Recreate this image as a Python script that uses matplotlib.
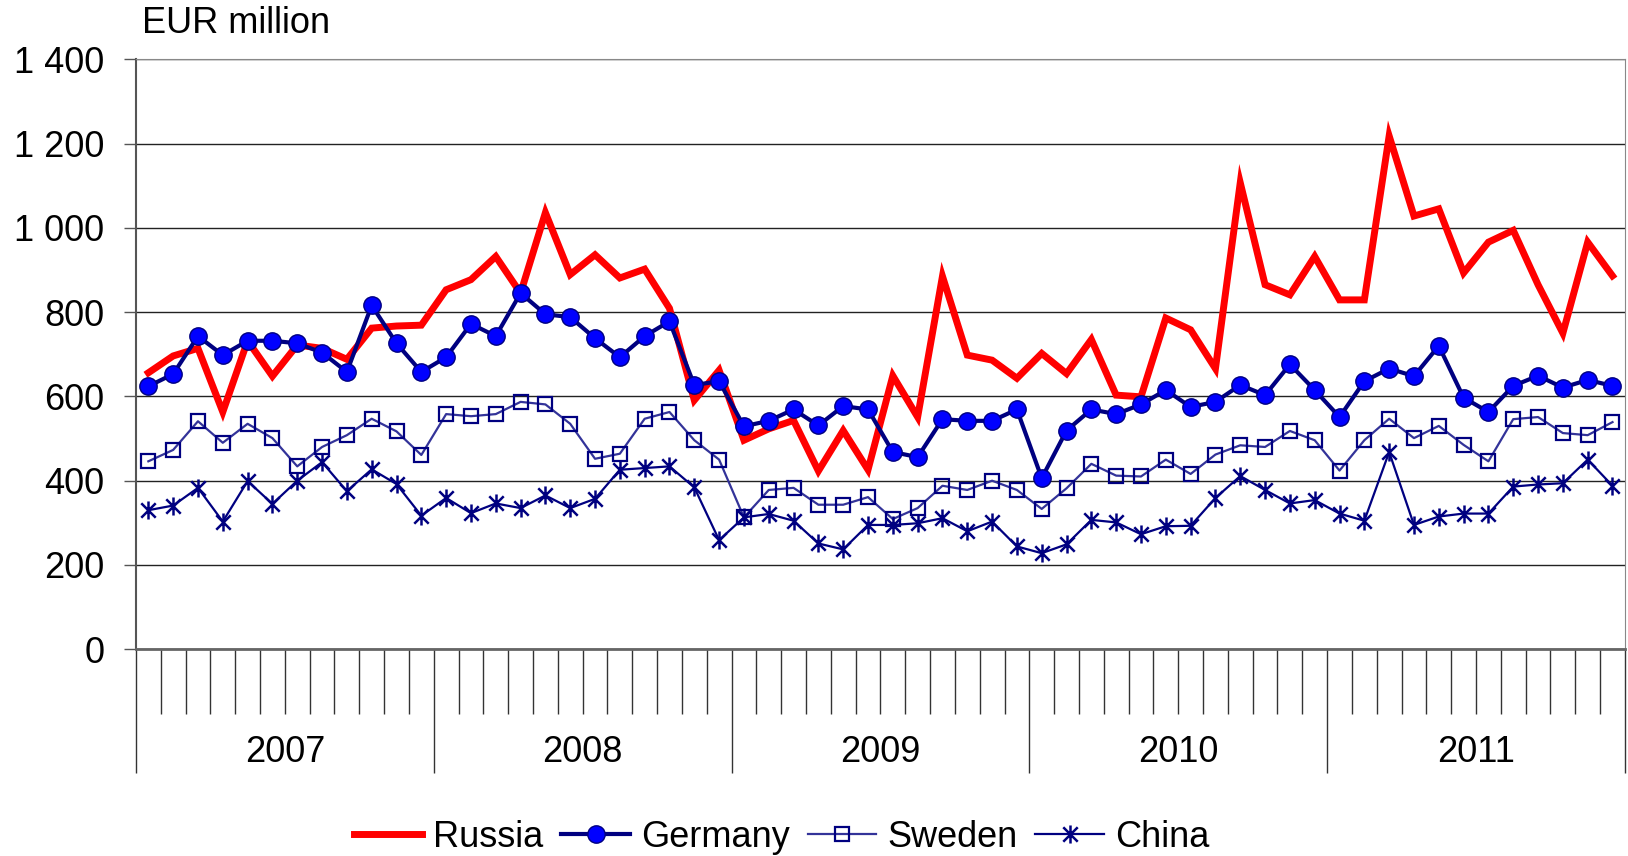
import numpy as np
import matplotlib
matplotlib.use('Agg')
from matplotlib import pyplot as plt
from matplotlib.path import Path

years = ['2007', '2008', '2009', '2010', '2011']

russia = [656, 696, 714, 563, 732, 648, 722, 714, 688, 762, 767, 769,
          853, 877, 932, 845, 1036, 889, 936, 881, 902, 809, 591, 662,
          496, 523, 543, 423, 519, 426, 649, 551, 885, 698, 686, 643,
          702, 654, 735, 603, 599, 786, 758, 666, 1107, 865, 841, 932,
          829, 829, 1218, 1028, 1045, 893, 966, 994, 865, 750, 966, 886]

germany = [624, 653, 743, 698, 732, 732, 726, 704, 658, 816, 726, 658,
           693, 772, 743, 845, 795, 788, 738, 693, 743, 778, 627, 636,
           529, 542, 569, 531, 577, 569, 468, 456, 546, 542, 542, 569,
           406, 519, 569, 558, 581, 615, 575, 587, 627, 603, 676, 615,
           551, 636, 666, 648, 720, 597, 563, 625, 649, 621, 639, 625]

sweden = [446, 473, 541, 490, 535, 501, 434, 480, 508, 547, 517, 461,
          558, 553, 558, 587, 581, 535, 452, 464, 547, 563, 496, 450,
          313, 378, 383, 343, 343, 361, 309, 335, 388, 378, 400, 378,
          333, 382, 440, 412, 410, 450, 416, 462, 484, 480, 518, 496,
          424, 496, 547, 501, 530, 485, 446, 546, 551, 513, 508, 539]

china = [330, 341, 383, 303, 399, 345, 400, 444, 375, 427, 392, 317,
         359, 323, 346, 335, 365, 335, 357, 426, 430, 434, 384, 259,
         313, 321, 305, 251, 237, 295, 295, 299, 311, 280, 303, 244,
         228, 249, 307, 301, 273, 292, 293, 359, 411, 378, 346, 354,
         322, 305, 468, 295, 315, 322, 322, 386, 391, 394, 450, 388]

y_ticks = [0, 200, 400, 600, 800, 1000, 1200, 1400]

plt.rcParams['font.family'] = ['Liberation Sans', 'DejaVu Sans']
plt.rcParams['font.size'] = 26

fig = plt.figure(figsize=(16.28, 8.56), dpi=100)
ax = fig.add_axes([0.0835, 0.2415, 0.9146, 0.6893])

x = np.arange(len(russia))

star = Path([(-1, -1), (1, 1), (-1, 1), (1, -1), (0, -1.25), (0, 1.25)],
            [Path.MOVETO, Path.LINETO, Path.MOVETO, Path.LINETO, Path.MOVETO, Path.LINETO])

ax.plot(x, russia, color='#FF0000', lw=5, label='Russia', zorder=4, solid_joinstyle='miter')
ax.plot(x, germany, color='#000080', lw=3, marker='o', markersize=12.5,
        markerfacecolor='#0000FF', markeredgecolor='#000080', markeredgewidth=1,
        label='Germany', zorder=5)
ax.plot(x, sweden, color='#333399', lw=1.6, marker='s', markersize=9.5,
        markerfacecolor='none', markeredgecolor='#000080', markeredgewidth=1.6,
        label='Sweden', zorder=3)
ax.plot(x, china, color='#000080', lw=1.6, marker=star, markersize=13,
        markerfacecolor='none', markeredgecolor='#000080', markeredgewidth=1.8,
        label='China', zorder=3)

ax.set_xlim(-0.5, len(russia) - 0.5)
ax.set_ylim(0, 1400)
ax.set_yticks(y_ticks)
ax.set_yticklabels([format(v, ',').replace(',', ' ') for v in y_ticks])
ax.yaxis.grid(True, color='#222222', lw=1)
ax.set_axisbelow(True)

ax.set_xticks(np.arange(0, len(russia) + 1, 12) - 0.5)
ax.set_xticklabels([])
ax.set_xticks(np.arange(0, len(russia) + 1) - 0.5, minor=True)
ax.tick_params(axis='x', which='major', direction='out', length=89, width=1, color='#333333')
ax.tick_params(axis='x', which='minor', direction='out', length=47, width=1, color='#333333')
ax.tick_params(axis='y', direction='out', length=8.6, width=1, color='#555555', pad=14)

for i, yr in enumerate(years):
    ax.text(12 * i + 5.5, -0.175, yr, transform=ax.get_xaxis_transform(),
            ha='center', va='center', fontsize=26)

ax.spines['left'].set_color('#555555')
ax.spines['left'].set_linewidth(1.5)
ax.spines['bottom'].set_color('#666666')
ax.spines['bottom'].set_linewidth(2)
ax.spines['top'].set_color('#888888')
ax.spines['right'].set_color('#888888')

fig.text(0.0872, 0.972, 'EUR million', ha='left', va='center', fontsize=26)

fig.legend(loc='center', bbox_to_anchor=(0.48, 0.022), ncol=4, frameon=False,
           fontsize=26, handlelength=1.9, handletextpad=0.3, columnspacing=0.5)

fig.savefig('out.png', dpi=100)
